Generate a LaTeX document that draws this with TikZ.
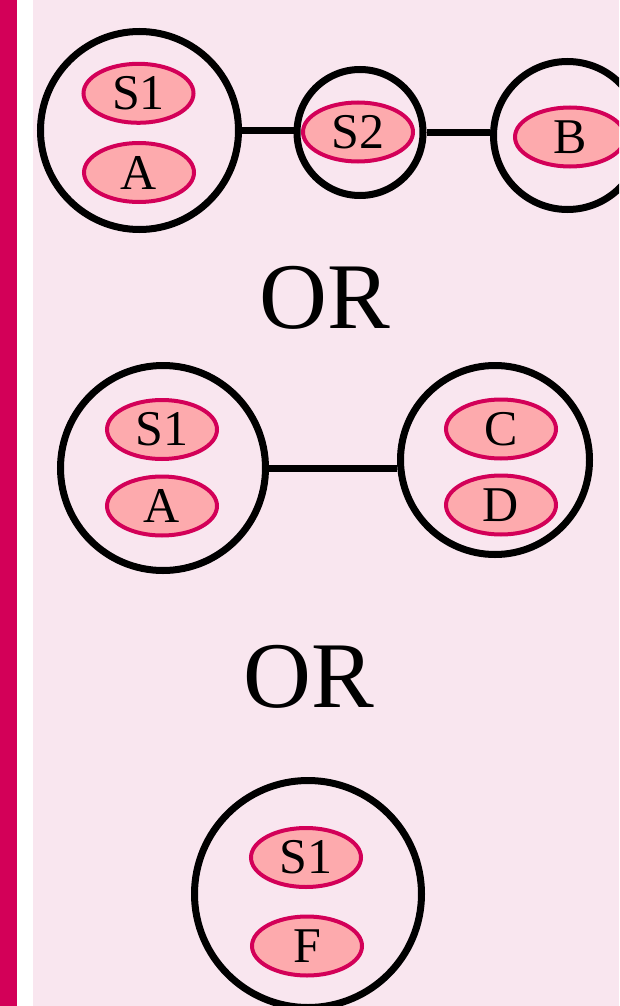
\documentclass[tikz,border=0pt]{standalone}
\usepackage{fontspec}
\setmainfont{Liberation Serif}
\usetikzlibrary{shapes.geometric}
\definecolor{barmag}{HTML}{D30058}
\definecolor{bgpink}{HTML}{F9E6EF}
\definecolor{elfill}{HTML}{FDAAAD}
\definecolor{elline}{HTML}{D30058}
\tikzset{
  x=1pt, y=1pt,
  group/.style={circle, draw=black, line width=7pt, inner sep=0pt, minimum size=#1},
  item/.style={ellipse, draw=elline, fill=elfill, line width=4pt, inner sep=0pt,
    minimum width=110pt, minimum height=59pt, font=\fontsize{50}{50}\selectfont},
  link/.style={draw=black, line width=7pt},
  ortext/.style={inner sep=0pt, font=\fontsize{94}{94}\selectfont}
}
\begin{document}
\begin{tikzpicture}
\useasboundingbox (0,0) rectangle (619,-1006);
\clip (0,0) rectangle (619,-1006);
\fill[bgpink] (33,0) rectangle (619,-1006);
\fill[white] (16.7,0) rectangle (33,-1006);
\fill[barmag] (0,0) rectangle (16.7,-1006);

% top row
\node[group=198pt] (c1) at (139.5,-130.5) {};
\node[group=126pt] (c2) at (360,-132.5) {};
\node[group=148pt] (c3) at (567.5,-135.5) {};
\draw[link] (c1.east) -- (c1.east -| c2.west);
\draw[link] (c2.east) -- (c2.east -| c3.west);
\node[item] (s1a) at (138.5,-93.3) {S1};
\node[item] (aa) at (139,-172.5) {A};
\node[item] (s2) at (358,-132) {S2};
\node[item] (b) at (570,-137) {B};

\node[ortext] (or1) at (325,-298) {OR};

% middle row
\node[group=205pt] (c4) at (163,-468) {};
\node[group=189pt] (c5) at (495,-460) {};
\draw[link] (c4.east) -- (c4.east -| c5.west);
\node[item] (s1b) at (162,-429.5) {S1};
\node[item] (ab) at (162,-506) {A};
\node[item] (c) at (501,-429) {C};
\node[item] (d) at (501,-505) {D};

\node[ortext] (or2) at (308.5,-677) {OR};

% bottom
\node[group=227pt] (c6) at (308,-894) {};
\node[item] (s1c) at (306,-857.5) {S1};
\node[item] (f) at (307,-946) {F};
\end{tikzpicture}
\end{document}
